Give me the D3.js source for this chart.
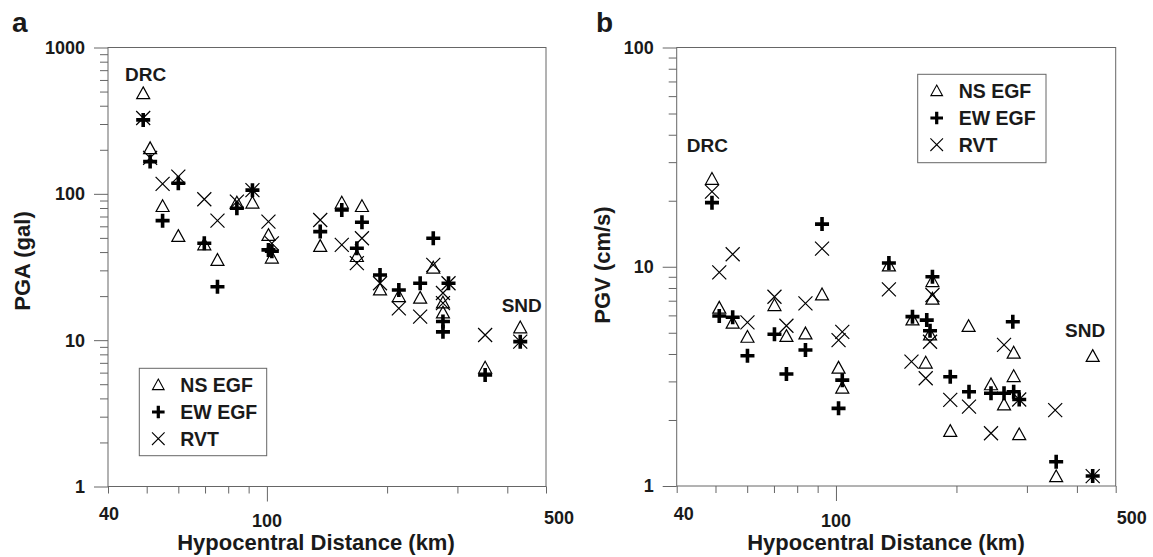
<!DOCTYPE html>
<html><head><meta charset="utf-8">
<script src="https://cdn.jsdelivr.net/npm/d3@7"></script>
<style>body{margin:0;background:#fff}svg{display:block}text{font-family:"Liberation Sans",Arial,sans-serif;font-weight:bold;fill:#1a1a1a}</style>
</head><body><svg id="c" width="1153" height="557"></svg>
<script>
// ---------- DATA ----------
const xTickLabels = ["40", "100", "500"];
const xMinorTicks = [40, 50, 60, 70, 80, 90, 100, 200, 300, 400, 500];
const seriesNames = ["NS EGF", "EW EGF", "RVT"];
const pgaTickLabels = [1, 10, 100, 1000];
const pgvTickLabels = [1, 10, 100];

// Panel a: PGA (gal)
const pgaNSDist = [49.0, 51.0, 54.8, 60.0, 69.7, 75.2, 84.1, 92.0, 100.9, 102.9, 136, 154, 173, 168, 192, 214, 242, 261, 276, 276, 352, 431];
const pgaNS     = [482, 203, 81.7, 51, 44.7, 35, 86.2, 86.2, 51.8, 36.3, 43.6, 86.2, 81.7, 37.2, 22.0, 19.8, 19.3, 31, 15.3, 17.9, 6.43, 12.1];
const pgaEWDist = [49.0, 51.0, 54.8, 60.0, 69.7, 75.2, 84.1, 92.0, 100.9, 102.9, 136, 154, 173, 168, 192, 214, 242, 261, 285, 276, 276, 352, 431];
const pgaEW     = [320, 166, 65.6, 118, 45.9, 23.2, 79.7, 106, 41.4, 40.5, 55.2, 77.6, 64, 42.5, 27.9, 22.0, 24.5, 49.7, 24.5, 13.4, 11.4, 5.78, 9.77];
const pgaRVTDist = [49.0, 51.0, 54.8, 60.0, 69.7, 75.2, 84.1, 92.0, 100.9, 102.9, 136, 154, 173, 168, 192, 214, 242, 261, 276, 276, 285, 352, 431];
const pgaRVT     = [330, 176, 117, 131, 91.9, 65.6, 88.4, 106, 64.6, 45.9, 66.3, 44.8, 49.7, 33.6, 24.5, 16.5, 14.5, 32.7, 21.0, 17.9, 24.5, 10.85, 9.77];

// Panel b: PGV (cm/s)
const pgvNSDist = [49.0, 51.1, 55.2, 60.1, 70.2, 75.2, 83.9, 92.3, 101.5, 103.7, 135.6, 155.3, 167.6, 171.8, 174.2, 174.2, 193, 214.5, 244, 263, 278, 278, 287, 355, 438];
const pgvNS     = [25.0, 6.46, 5.52, 4.76, 6.64, 4.80, 4.93, 7.43, 3.44, 2.79, 10.07, 5.71, 3.63, 4.88, 8.54, 7.10, 1.77, 5.33, 2.89, 2.34, 4.03, 3.15, 1.71, 1.10, 3.89];
const pgvEWDist = [49.0, 51.1, 55.2, 60.1, 70.2, 75.2, 83.9, 92.3, 101.5, 103.7, 135.6, 155.3, 168.6, 171.8, 174.2, 193, 215, 244, 263, 276.6, 278, 287, 355, 438];
const pgvEW     = [19.6, 5.96, 5.88, 3.93, 4.92, 3.24, 4.17, 15.65, 2.26, 3.04, 10.4, 5.92, 5.71, 5.11, 9.0, 3.15, 2.69, 2.65, 2.65, 5.61, 2.69, 2.48, 1.29, 1.11];
const pgvRVTDist = [49.0, 51.1, 55.2, 60.1, 70.2, 75.2, 83.9, 92.3, 101.5, 103.7, 135.6, 154.4, 167.6, 171.8, 174.2, 193, 215, 244, 263, 287, 353, 438];
const pgvRVT     = [22.0, 9.43, 11.4, 5.58, 7.30, 5.38, 6.81, 12.1, 4.63, 5.05, 7.89, 3.69, 3.10, 4.55, 7.43, 2.47, 2.30, 1.74, 4.40, 2.48, 2.22, 1.11];

// ---------- DRAW ----------
const svg = d3.select("#c");
const AX = "#666";

const sym = {
  tri: "M0,-7L6.5,4.8L-6.5,4.8Z",
  plus: "M-7,0H7M0,-7V7",
  x: "M-7,-7L7,7M-7,7L7,-7"
};
function drawSym(g, type, cx, cy) {
  const p = g.append("path").attr("d", sym[type]).attr("transform", `translate(${cx},${cy})`);
  if (type === "tri") p.attr("fill", "none").attr("stroke", "#000").attr("stroke-width", 1.2);
  else if (type === "plus") p.attr("fill", "none").attr("stroke", "#000").attr("stroke-width", 3.6);
  else p.attr("fill", "none").attr("stroke", "#000").attr("stroke-width", 1.2);
}

function panel(cfg) {
  const x = d3.scaleLog().domain([40, 500]).range([cfg.x0, cfg.x1]);
  const y = d3.scaleLog().domain(cfg.yDomain).range([cfg.y1, cfg.y0]);
  const g = svg.append("g");

  // frame
  g.append("rect").attr("x", cfg.x0).attr("y", cfg.y0).attr("width", cfg.x1 - cfg.x0).attr("height", cfg.y1 - cfg.y0)
    .attr("fill", "none").attr("stroke", AX).attr("stroke-width", 1);

  // y minor ticks
  const yMinor = [];
  for (let e = Math.log10(cfg.yDomain[0]); e < Math.log10(cfg.yDomain[1]); e++)
    for (let k = 2; k <= 9; k++) yMinor.push(k * Math.pow(10, e));
  const ya = g.append("g").attr("transform", `translate(${cfg.x0},0)`)
    .call(d3.axisLeft(y).tickValues(yMinor).tickSize(8).tickFormat(""));
  ya.select(".domain").remove(); ya.selectAll("line").attr("stroke", AX);
  const yb = g.append("g").attr("transform", `translate(${cfg.x0},0)`)
    .call(d3.axisLeft(y).tickValues(cfg.yMajor).tickSize(14).tickFormat(""));
  yb.select(".domain").remove(); yb.selectAll("line").attr("stroke", AX);
  g.selectAll(".ylab").data(cfg.yMajor).join("text")
    .attr("x", cfg.x0 - 23).attr("y", d => y(d)).attr("dy", "0.36em")
    .attr("text-anchor", "end").attr("font-size", 18).text(d => d3.format("d")(d));

  // x ticks
  const xs = g.append("g").attr("transform", `translate(0,${cfg.y1})`)
    .call(d3.axisBottom(x).tickValues(xMinorTicks.filter(v => v !== 100)).tickSize(7).tickFormat(""));
  xs.select(".domain").remove(); xs.selectAll("line").attr("stroke", AX);
  const xl = g.append("g").attr("transform", `translate(0,${cfg.y1})`)
    .call(d3.axisBottom(x).tickValues([100]).tickSize(15).tickFormat(""));
  xl.select(".domain").remove(); xl.selectAll("line").attr("stroke", AX);
  const xOff = cfg.xLabOff, xBase = [520, 527, 524];
  g.selectAll(".xlab").data(xTickLabels).join("text")
    .attr("x", (d, i) => x(+d) + xOff[i]).attr("y", (d, i) => xBase[i])
    .attr("text-anchor", "middle").attr("font-size", 18).text(d => d);

  // axis titles
  g.append("text").attr("x", cfg.xTitleX).attr("y", 550).attr("text-anchor", "middle")
    .attr("font-size", 22).text("Hypocentral Distance (km)");
  g.append("text").attr("transform", `translate(${cfg.yTitleX},${cfg.yTitleY}) rotate(-90)`)
    .attr("text-anchor", "middle").attr("font-size", 22).text(cfg.yTitle);
  g.append("text").attr("x", cfg.tagX).attr("y", 32).attr("font-size", 28).text(cfg.tag);

  // data
  const m = g.append("g");
  cfg.ns[0].forEach((d, i) => drawSym(m, "tri", x(d), y(cfg.ns[1][i])));
  cfg.ew[0].forEach((d, i) => drawSym(m, "plus", x(d), y(cfg.ew[1][i])));
  cfg.rvt[0].forEach((d, i) => drawSym(m, "x", x(d), y(cfg.rvt[1][i])));

  // annotations
  g.append("text").attr("x", cfg.drc[0]).attr("y", cfg.drc[1]).attr("font-size", 19).text("DRC");
  g.append("text").attr("x", cfg.snd[0]).attr("y", cfg.snd[1]).attr("font-size", 19).text("SND");

  // legend
  const L = cfg.leg;
  g.append("rect").attr("x", L.x).attr("y", L.y).attr("width", L.w).attr("height", L.h)
    .attr("fill", "#fff").attr("stroke", AX).attr("stroke-width", 1);
  ["tri", "plus", "x"].forEach((t, i) => {
    const cy = L.y + 17 + i * 26.7;
    const lg = g.append("g");
    drawSym(lg, t, L.x + 19, cy);
    lg.select("path").attr("transform", `translate(${L.x + 19},${cy}) scale(0.9)`);
    g.append("text").attr("x", L.x + 41).attr("y", cy).attr("dy", "0.36em")
      .attr("font-size", 19.5).text(seriesNames[i]);
  });
}

panel({
  x0: 108, x1: 546, y0: 47.5, y1: 486.5, yDomain: [1, 1000], yMajor: pgaTickLabels,
  xLabOff: [1, 0, 13], xTitleX: 316, yTitleX: 30, yTitleY: 261, yTitle: "PGA (gal)", tag: "a", tagX: 12,
  ns: [pgaNSDist, pgaNS], ew: [pgaEWDist, pgaEW], rvt: [pgaRVTDist, pgaRVT],
  drc: [125, 80.7], snd: [501.7, 311.7],
  leg: { x: 139.3, y: 368.3, w: 127.4, h: 87.4 }
});
panel({
  x0: 676.7, x1: 1115.7, y0: 47.5, y1: 486, yDomain: [1, 100], yMajor: pgvTickLabels,
  xLabOff: [7, 0, 16], xTitleX: 886, yTitleX: 610, yTitleY: 265, yTitle: "PGV (cm/s)", tag: "b", tagX: 596,
  ns: [pgvNSDist, pgvNS], ew: [pgvEWDist, pgvEW], rvt: [pgvRVTDist, pgvRVT],
  drc: [686.7, 151.7], snd: [1065, 336.7],
  leg: { x: 917.7, y: 74.3, w: 128.3, h: 88.4 }
});
</script></body></html>
